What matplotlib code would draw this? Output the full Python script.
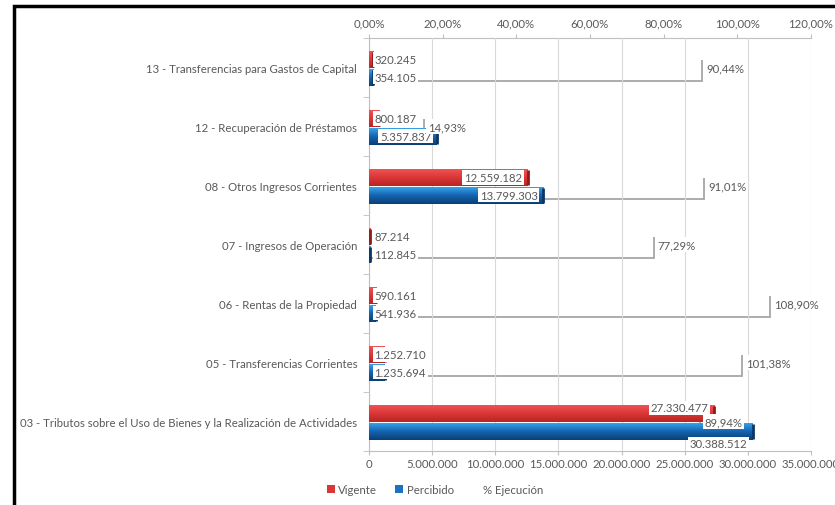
import matplotlib
matplotlib.use("Agg")
import matplotlib.pyplot as plt
import numpy as np
from matplotlib.patches import Patch, Rectangle
from matplotlib.colors import LinearSegmentedColormap

categories = [
    "03 - Tributos sobre el Uso de Bienes y la Realización de Actividades",
    "05 - Transferencias Corrientes",
    "06 - Rentas de la Propiedad",
    "07 - Ingresos de Operación",
    "08 - Otros Ingresos Corrientes",
    "12 - Recuperación de Préstamos",
    "13 - Transferencias para Gastos de Capital",
]
vigente = [27330477, 1252710, 590161, 87214, 12559182, 800187, 320245]
percibido = [30388512, 1235694, 541936, 112845, 13799303, 5357837, 354105]
ejecucion = [89.94, 101.38, 108.90, 77.29, 91.01, 14.93, 90.44]

x_ticks = [0, 5000000, 10000000, 15000000, 20000000, 25000000, 30000000, 35000000]
pct_ticks = [0, 20, 40, 60, 80, 100, 120]

plt.rcParams["font.family"] = ["Lato", "DejaVu Sans"]
GRAY = "#595959"
LINE = "#BFBFBF"
FS = 8.2


def fmt(v):
    return f"{v:,}".replace(",", ".")


def fmt_pct(p):
    return f"{p:.2f}%".replace(".", ",")


fig = plt.figure(figsize=(8.35, 5.06), dpi=100)
ax = fig.add_axes([0.4419, 0.1067, 0.5293, 0.8162])
ax2 = ax.twiny()
ax2.set_zorder(ax.get_zorder() - 1)
ax.patch.set_visible(False)

y = np.arange(len(categories))

# % Ejecucion: only the bar's shadow shows, as an L-shaped grey line
for yi, p in zip(y, ejecucion):
    ax2.plot([0, p, p], [yi - 0.23, yi - 0.23, yi + 0.13], color="#A6A6A6",
             lw=1.3, solid_joinstyle="miter", solid_capstyle="butt")

red_bars = ax.barh(y + 0.135, vigente, height=0.29, color="#D93636", zorder=3)
blue_bars = ax.barh(y - 0.165, percibido, height=0.29, color="#1A73C0", zorder=3)


def shade(bars, colors, cap):
    cmap = LinearSegmentedColormap.from_list("g", colors)
    grad = np.linspace(0, 1, 64).reshape(-1, 1)
    for b in bars:
        x0, y0, w, h = b.get_x(), b.get_y(), b.get_width(), b.get_height()
        im = ax.imshow(grad, extent=[x0, x0 + w, y0, y0 + h], origin="lower",
                       aspect="auto", cmap=cmap, zorder=3.1)
        im.set_clip_path(b)
        ax.vlines(x0 + w, y0 + 0.02, y0 + h - 0.02, colors=cap, lw=2, zorder=3.2)


shade(red_bars, ["#B82424", "#DD3838", "#F05656"], "#8E1B1B")
shade(blue_bars, ["#0B3F75", "#1566B2", "#3AA8EE"], "#0A3766")

box = dict(boxstyle="square,pad=0.15", fc="white", ec="none")

for bars, vals in [(red_bars, vigente), (blue_bars, percibido)]:
    for i, (b, v) in enumerate(zip(bars, vals)):
        yc = b.get_y() + b.get_height() / 2
        dy = 0
        if i == 0:
            # Excel nudged the labels of the biggest category
            dy = 4 if bars is red_bars else -9
        if v > 4500000:
            ax.annotate(fmt(v), (v, yc), xytext=(-4, dy), textcoords="offset points",
                        ha="right", va="center", fontsize=FS, color=GRAY, bbox=box, zorder=5)
        else:
            ax.annotate(fmt(v), (0, yc), xytext=(4, dy), textcoords="offset points",
                        ha="left", va="center", fontsize=FS, color=GRAY, bbox=box, zorder=5)

for yi, p in zip(y, ejecucion):
    ax.annotate(fmt_pct(p), (p, yi), xycoords=ax2.transData, xytext=(3, 0),
                textcoords="offset points", ha="left", va="center", fontsize=FS,
                color=GRAY, bbox=box, zorder=5)

ax.set_xlim(0, 35000000)
ax.set_ylim(-0.5, len(categories) - 0.5)
ax.set_xticks(x_ticks)
ax.set_xticklabels([fmt(t) for t in x_ticks])
ax.set_yticks(y)
ax.set_yticklabels(categories)
ax.set_yticks(np.arange(-0.5, len(categories), 1), minor=True)
ax.grid(axis="x", color="#D9D9D9", lw=0.8, zorder=0)
ax.set_axisbelow(True)
ax.tick_params(axis="x", length=3, color=LINE, labelcolor=GRAY, labelsize=FS, pad=2)
ax.tick_params(axis="y", which="major", length=0, labelcolor=GRAY, labelsize=FS, pad=8.5)
ax.tick_params(axis="y", which="minor", length=4, color=LINE)
for s in ["top", "right"]:
    ax.spines[s].set_visible(False)
for s in ["left", "bottom"]:
    ax.spines[s].set_color(LINE)

ax2.set_xlim(0, 120)
ax2.set_xticks(pct_ticks)
ax2.set_xticklabels([fmt_pct(t) for t in pct_ticks])
ax2.tick_params(axis="x", length=3, color=LINE, labelcolor=GRAY, labelsize=FS, pad=4)
for s in ["left", "right", "bottom"]:
    ax2.spines[s].set_visible(False)
ax2.spines["top"].set_color(LINE)

handles = [Patch(facecolor="#D93636"), Patch(facecolor="#1A73C0"),
           Patch(facecolor="none", edgecolor="none")]
fig.legend(handles, ["Vigente", "Percibido", "% Ejecución"], loc="center",
           bbox_to_anchor=(0.521, 0.03), ncol=3, frameon=False, fontsize=FS,
           labelcolor=GRAY, handlelength=0.7, handleheight=0.7, handletextpad=0.3,
           columnspacing=1.6)

fig.add_artist(Rectangle((14 / 835, -0.05), 1.2, 1.05 - 7 / 506, transform=fig.transFigure,
                         fill=False, ec="black", lw=2.5))

fig.savefig("out.png", dpi=100)
